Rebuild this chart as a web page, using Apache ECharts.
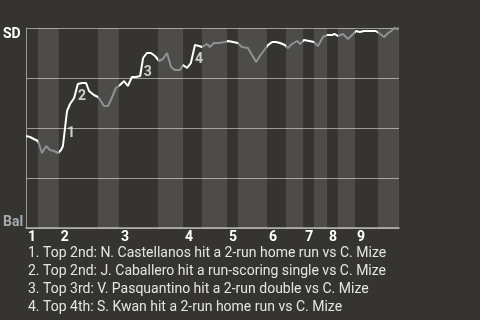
<!DOCTYPE html>
<html>
<head>
<meta charset="utf-8">
<script src="https://cdn.jsdelivr.net/npm/echarts@6/dist/echarts.min.js"></script>
<style>
  html, body { margin: 0; padding: 0; background: #363430; }
  #chart { width: 480px; height: 320px; }
</style>
</head>
<body>
<div id="chart"></div>
<script>
// Game progress (0 = first pitch, 100 = final out) for each play
const progress = [
  0, 1.1, 2.1, 3.2, 4.3, 5.4, 6.4, 7.5, 8.6, 9.4,
  9.9, 11.0, 11.8, 12.9, 13.9, 15.0, 16.1, 16.9, 18.2, 19.3,
  20.1, 20.9, 22.0, 23.1, 24.1, 25.2, 26.3, 27.3, 28.4, 29.5,
  30.6, 31.4, 32.4, 33.5, 34.6, 35.7, 36.7, 37.8, 38.9, 39.9,
  41.3, 42.1, 43.2, 44.2, 45.3, 46.4, 47.2, 48.5, 49.3, 50.4,
  51.7, 53.4, 54.2, 55.5, 56.8, 57.9, 59.5, 60.6, 61.7, 62.7,
  64.1, 64.9, 66.0, 67.0, 68.1, 69.4, 70.2, 71.3, 72.7, 73.5,
  74.5, 75.9, 77.2, 78.3, 78.8, 79.6, 80.7, 82.0, 82.8, 83.6,
  85.0, 86.3, 87.4, 88.5, 89.5, 90.6, 92.5, 93.8, 94.6, 96.0,
  97.1, 97.9, 98.7, 99.5, 100
];

// San Diego win probability (%) after each play
const sdWinPct = [
  46, 45.5, 44.5, 43.5, 37.5, 41, 39, 38.5, 37.5, 39,
  41, 58.5, 62, 65, 72, 72.5, 72.5, 68.5, 66.5, 65.5,
  63.5, 61, 61, 65.5, 70, 71.5, 73.5, 71, 75.5, 75.5,
  76, 85, 87.5, 87.5, 86, 83.5, 84.5, 87.5, 80.5, 79,
  79, 81.5, 80, 82.5, 91.5, 91, 90.5, 92, 90.5, 92.5,
  92.5, 93, 93.5, 93, 92.5, 90.5, 90, 86.5, 83, 86,
  89.5, 91.5, 93, 93, 92.5, 91.5, 90, 92, 93.5, 92,
  94, 93.5, 93, 91, 91, 95.5, 96.5, 96.5, 97, 96,
  97, 94.5, 96.5, 98.5, 98, 98.5, 98.5, 98.5, 97.5, 95.5,
  97.5, 98.5, 100, 99.5, 100
];

// Half-inning boundaries on the progress scale (top 1st ... bottom 9th)
const halfInningEdges = [
  0, 3.2, 8.8, 19.3, 24.9, 35.4, 42.1, 47.2, 53.9, 56.8,
  64.6, 69.7, 74.3, 77.2, 80.7, 83.6, 88.2, 94.4, 100
];

const inningLabels = ['1', '2', '3', '4', '5', '6', '7', '8', '9'];
const yEndLabels = { top: 'SD', bottom: 'Bal' };

// Key plays: index of the play that produced the swing, and its description
const keyPlayIdx = [11, 14, 31, 44];
const keyPlayNotes = [
  'Top 2nd: N. Castellanos hit a 2-run home run vs C. Mize',
  'Top 2nd: J. Caballero hit a run-scoring single vs C. Mize',
  'Top 3rd: V. Pasquantino hit a 2-run double vs C. Mize',
  'Top 4th: S. Kwan hit a 2-run home run vs C. Mize'
];

// ---- derived structures ----
const inningStarts = halfInningEdges.filter((_, i) => i % 2 === 0 && i < 18);
const topHalves = [], bottomHalves = [];
for (let i = 0; i < halfInningEdges.length - 1; i++) {
  const seg = [halfInningEdges[i], halfInningEdges[i + 1]];
  (i % 2 === 0 ? topHalves : bottomHalves).push(seg);
}
const lineData = progress.map((x, i) => [x, sdWinPct[i]]);
const keyPlayPoints = keyPlayIdx.map((idx, n) => ({
  value: [(progress[idx - 1] + progress[idx]) / 2, (sdWinPct[idx - 1] + sdWinPct[idx]) / 2],
  label: { formatter: String(n + 1) }
}));

const WHITE = '#ffffff';
const GRAY = '#8a9296';
const GRID = '#9b9a97';

const chart = echarts.init(document.getElementById('chart'));
chart.setOption({
  backgroundColor: '#363430',
  animation: false,
  textStyle: { fontFamily: 'Roboto' },
  title: {
    left: 28,
    top: 244,
    padding: 0,
    text: keyPlayNotes.map((t, i) => (i + 1) + '. ' + t).join('\n'),
    textStyle: {
      color: '#e4e4e2',
      fontSize: 14,
      fontWeight: 'normal',
      lineHeight: 18,
      fontFamily: 'Roboto'
    }
  },
  grid: { left: 26, top: 28, width: 373, height: 200, containLabel: false },
  xAxis: {
    type: 'value',
    min: 0,
    max: 100,
    axisLine: { show: true, lineStyle: { color: '#b4b3b0', width: 1.5 } },
    axisTick: { show: false },
    splitLine: { show: false },
    axisLabel: {
      customValues: inningStarts,
      formatter: v => inningLabels[inningStarts.indexOf(v)],
      align: 'left',
      padding: [0, 0, 0, 2],
      margin: 2,
      color: '#ffffff',
      fontSize: 14,
      fontWeight: 'bold',
      fontFamily: 'Roboto'
    }
  },
  yAxis: {
    type: 'value',
    min: 0,
    max: 100,
    interval: 25,
    axisLine: { show: true, lineStyle: { color: GRID, width: 1 } },
    axisTick: { show: false },
    splitLine: { show: true, lineStyle: { color: GRID, width: 1 } },
    axisLabel: {
      customValues: [0, 100],
      formatter: v => v === 100 ? '{sd|' + yEndLabels.top + '}' : '{bal|' + yEndLabels.bottom + '}',
      align: 'left',
      margin: 23,
      rich: {
        sd: { color: '#ffffff', fontSize: 14, fontWeight: 'bold', fontFamily: 'Roboto', padding: [12, 0, 0, 0] },
        bal: { color: '#a3abb0', fontSize: 14, fontWeight: 'bold', fontFamily: 'Roboto', padding: [0, 0, 12, 0] }
      }
    }
  },
  visualMap: {
    show: false,
    type: 'piecewise',
    dimension: 0,
    seriesIndex: 0,
    pieces: topHalves.map(s => ({ gte: s[0], lt: s[1], color: WHITE }))
      .concat(bottomHalves.map(s => ({ gte: s[0], lte: s[1], color: GRAY })))
  },
  series: [
    {
      type: 'line',
      data: lineData,
      showSymbol: false,
      symbol: 'none',
      lineStyle: { width: 2 },
      z: 3,
      markArea: {
        silent: true,
        itemStyle: { color: 'rgba(255,255,255,0.12)' },
        data: bottomHalves.map(s => [{ xAxis: s[0] }, { xAxis: s[1] }])
      }
    },
    {
      type: 'scatter',
      data: keyPlayPoints,
      symbolSize: 0,
      z: 4,
      label: {
        show: true,
        position: 'right',
        distance: 2,
        offset: [0, 5],
        color: '#f2f2f2',
        fontSize: 14,
        fontWeight: 'bold',
        fontFamily: 'Roboto'
      }
    }
  ]
});
</script>
</body>
</html>
